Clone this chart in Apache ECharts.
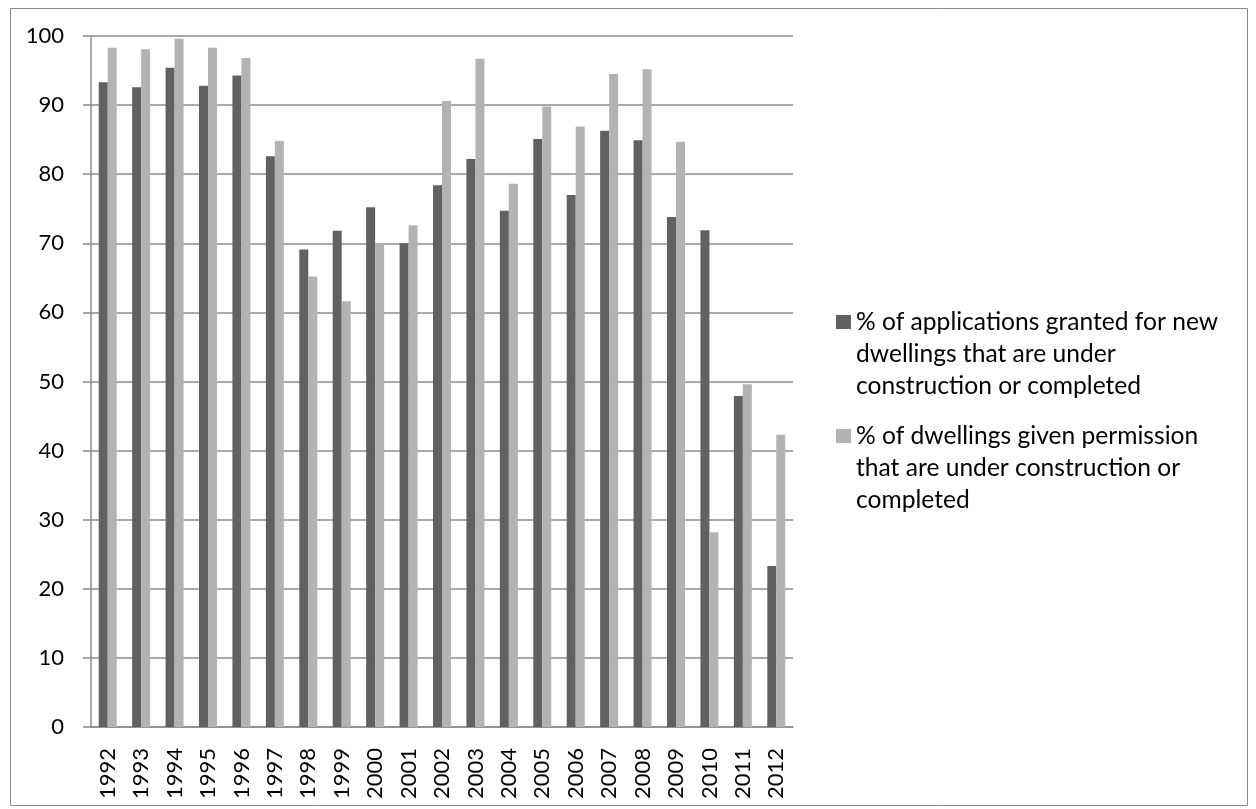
<!DOCTYPE html>
<html>
<head>
<meta charset="utf-8">
<script src="https://cdn.jsdelivr.net/npm/echarts@6/dist/echarts.min.js"></script>
<style>
html,body{margin:0;padding:0;background:#fff;}
#c{width:1256px;height:809px;}
</style>
</head>
<body>
<div id="c"></div>
<script>
const years = ['1992','1993','1994','1995','1996','1997','1998','1999','2000','2001','2002','2003','2004','2005','2006','2007','2008','2009','2010','2011','2012'];
const applicationsGranted = [93.3,92.6,95.4,92.8,94.3,82.6,69.1,71.8,75.2,70.0,78.4,82.2,74.7,85.1,77.0,86.3,84.9,73.8,71.9,47.9,23.3];
const dwellingsPermitted = [98.3,98.1,99.6,98.3,96.8,84.8,65.2,61.6,70.0,72.6,90.6,96.7,78.6,89.8,86.9,94.5,95.2,84.7,28.2,49.6,42.3];
const seriesNames = ['% of applications granted for new dwellings that are under construction or completed','% of dwellings given permission that are under construction or completed'];
const legendLines = [
  '% of applications granted for new\ndwellings that are under\nconstruction or completed',
  '% of dwellings given permission\nthat are under construction or\ncompleted'
];

const FONT = 'Lato';
const LH = 32;
const chart = echarts.init(document.getElementById('c'), null, {renderer:'canvas'});
const legendBase = (name, top) => ({
  data: [name],
  orient: 'vertical',
  left: 836,
  top: top,
  padding: 0,
  itemWidth: 15,
  itemHeight: 14,
  icon: 'rect',
  selectedMode: false,
  formatter: n => '\n\n' + legendLines[seriesNames.indexOf(n)],
  textStyle: {fontFamily: FONT, fontSize: 24.6, color: '#000', lineHeight: LH}
});
chart.setOption({
  animation: false,
  textStyle: {fontFamily: FONT},
  grid: {left: 91, right: 463, top: 36, bottom: 82, containLabel: false},
  legend: [legendBase(seriesNames[0], 322 - 2.5 * LH), legendBase(seriesNames[1], 436 - 2.5 * LH)],
  graphic: [{
    type: 'rect', left: 8, top: 6, shape: {width: 1237, height: 797},
    style: {fill: 'none', stroke: '#8c8c8c', lineWidth: 1}, silent: true
  }],
  xAxis: {
    type: 'category',
    data: years,
    axisLine: {lineStyle: {color: '#8c8c8c', width: 1.5}},
    axisTick: {length: 8, lineStyle: {color: '#8c8c8c', width: 1.5}},
    axisLabel: {rotate: 90, margin: 21, fontFamily: FONT, fontSize: 22, color: '#000'}
  },
  yAxis: {
    type: 'value', min: 0, max: 100, interval: 10,
    axisLine: {show: true, lineStyle: {color: '#8c8c8c', width: 1.5}},
    axisTick: {show: true, length: 8, lineStyle: {color: '#8c8c8c', width: 1.5}},
    splitLine: {lineStyle: {color: '#8c8c8c', width: 1.5}},
    axisLabel: {margin: 27, fontFamily: FONT, fontSize: 22, color: '#000'}
  },
  series: [
    {name: seriesNames[0], type: 'bar', data: applicationsGranted, barWidth: 9, barGap: '0%', itemStyle: {color: '#616161'}},
    {name: seriesNames[1], type: 'bar', data: dwellingsPermitted, barWidth: 9, itemStyle: {color: '#b3b3b3'}}
  ]
});
</script>
</body>
</html>
